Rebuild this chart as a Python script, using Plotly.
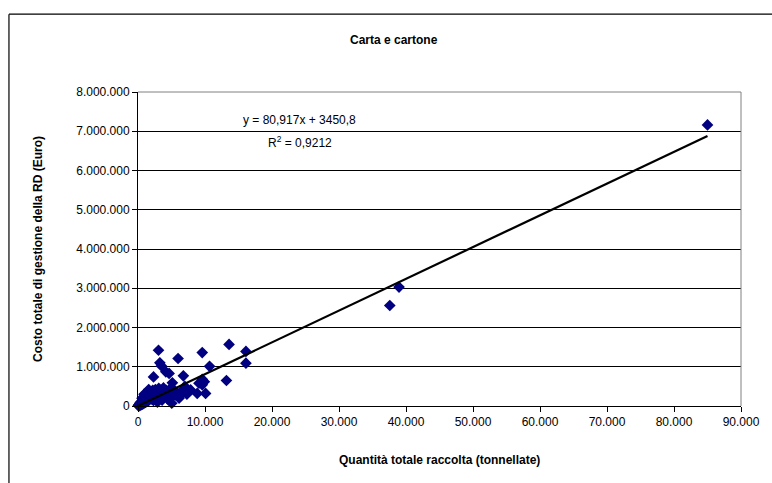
import plotly.graph_objects as go

# quantita' raccolta (t) e costo totale (Euro) per comune
quantita = [
    50, 120, 150, 200, 250, 300, 350, 400, 450, 500, 600, 600, 700, 750, 800,
    900, 900, 1000, 1050, 1100, 1200, 1300, 1300, 1400, 1500, 1600, 1600, 1700,
    1800, 1900, 2000, 2100, 2200, 2300, 2400, 2500, 2600, 2700, 2800, 2900,
    3000, 3100, 3200, 3300, 3500, 3600, 3700, 3800, 4000, 4200, 4400, 4600,
    4800, 5000, 5300, 5600, 6000, 6300, 6600, 7000, 7300, 3650, 4640, 5040, 6130,
    2315, 3060, 3260, 3500, 4150, 4640, 5130, 5980, 6620, 6770, 7860,
    8840, 9100, 9590, 9590, 9590, 9900, 10090, 10680, 13200, 13590, 16110, 16110,
    37580, 38960, 85000,
]
costo = [
    10000, 25000, 5000, 30000, 70000, 15000, 40000, 60000, 110000, 35000, 80000, 200000,
    50000, 160000, 120000, 70000, 300000, 150000, 230000, 90000, 200000, 110000, 350000,
    250000, 130000, 300000, 420000, 160000, 220000, 350000, 180000, 280000, 400000,
    140000, 320000, 240000, 420000, 190000, 360000, 100000, 260000, 450000, 300000,
    210000, 380000, 150000, 330000, 460000, 250000, 400000, 180000, 350000, 300000,
    220000, 420000, 280000, 240000, 350000, 320000, 500000, 300000, 410000, 410000, 70000, 200000,
    740000, 1420000, 1100000, 1020000, 870000, 830000, 590000, 1210000, 320000, 770000, 410000,
    320000, 580000, 1360000, 680000, 540000, 620000, 320000, 1010000, 650000, 1570000, 1390000, 1090000,
    2560000, 3030000, 7160000,
]

# retta di regressione lineare (Excel)
slope = 80.917
intercept = 3450.8
x_fit = [min(quantita), max(quantita)]
y_fit = [slope * v + intercept for v in x_fit]

fig = go.Figure()
fig.add_trace(go.Scatter(
    x=quantita, y=costo, mode="markers",
    marker=dict(symbol="diamond", size=9, color="#000080", line=dict(width=0)),
    showlegend=False, cliponaxis=False,
))
fig.add_trace(go.Scatter(
    x=x_fit, y=y_fit, mode="lines",
    line=dict(color="black", width=2.2),
    showlegend=False,
))

fig.update_layout(
    width=772, height=483,
    margin=dict(l=138, r=26, t=92, b=77),
    paper_bgcolor="white", plot_bgcolor="white",
    separators=",.",
    font=dict(family="Liberation Sans, Arial", size=12, color="black"),
    xaxis=dict(
        range=[0, 90000], dtick=10000, tickformat=",.0f",
        showgrid=False, zeroline=False,
        showline=True, linecolor="black", linewidth=1,
        ticks="outside", ticklen=5, tickcolor="black",
        fixedrange=True,
    ),
    yaxis=dict(
        range=[0, 8000000], dtick=1000000, tickformat=",.0f",
        showgrid=True, gridcolor="black", gridwidth=1, zeroline=False,
        showline=True, linecolor="black", linewidth=1,
        ticks="outside", ticklen=5, tickcolor="black",
        fixedrange=True,
    ),
    shapes=[
        # bordo area del grafico (grigio sopra e a destra)
        dict(type="line", xref="paper", yref="paper", x0=0, x1=1, y0=1, y1=1,
             line=dict(color="#808080", width=1)),
        dict(type="line", xref="paper", yref="paper", x0=1, x1=1, y0=0, y1=1,
             line=dict(color="#808080", width=1)),
        # cornice esterna: solo lati sinistro e superiore sono visibili
        dict(type="line", xref="paper", yref="paper", x0=-0.214, x1=1.2, y0=1.248, y1=1.248,
             line=dict(color="black", width=1.2)),
        dict(type="line", xref="paper", yref="paper", x0=-0.214, x1=-0.214, y0=-0.4, y1=1.248,
             line=dict(color="black", width=1.2)),
    ],
    annotations=[
        dict(text="<b>Carta e cartone</b>", xref="paper", yref="paper",
             x=0.424, y=1.166, xanchor="center", yanchor="middle",
             showarrow=False, font=dict(size=12)),
        dict(text="<b>Costo totale di gestione della RD (Euro)</b>", xref="paper", yref="paper",
             x=-0.166, y=0.5, xanchor="center", yanchor="middle", textangle=-90,
             showarrow=False, font=dict(size=12)),
        dict(text="<b>Quantità totale raccolta (tonnellate)</b>", xref="paper", yref="paper",
             x=0.5, y=-0.172, xanchor="center", yanchor="middle",
             showarrow=False, font=dict(size=12)),
        dict(text="y = 80,917x + 3450,8", xref="paper", yref="paper",
             x=0.268, y=0.911, xanchor="center", yanchor="middle",
             showarrow=False, font=dict(size=12)),
        dict(text="R<sup>2</sup> = 0,9212", xref="paper", yref="paper",
             x=0.268, y=0.841, xanchor="center", yanchor="middle",
             showarrow=False, font=dict(size=12)),
    ],
)

# niente margine né barre di scorrimento: la figura riempie la finestra
fig.write_html(
    "out.html", config={"displayModeBar": False},
    post_script="document.body.style.margin='0';"
                "document.body.style.overflow='hidden';"
                "document.documentElement.style.overflow='hidden';",
)
